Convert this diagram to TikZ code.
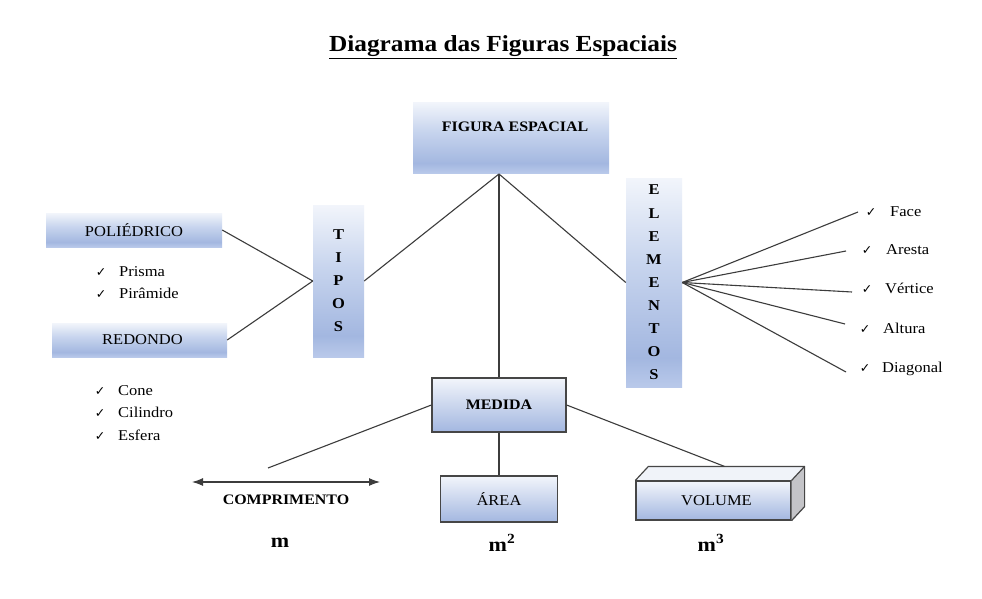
\documentclass[tikz,border=0pt]{standalone}
\usepackage{fontspec}
\setmainfont{Liberation Serif}[FakeStretch=1.1]
\newfontfamily\symfont{DejaVu Sans}
\usetikzlibrary{calc,arrows.meta}
\definecolor{bluetop}{RGB}{242,245,251}
\definecolor{bluemid}{RGB}{200,213,238}
\definecolor{bluebot}{RGB}{163,183,224}
\definecolor{blueedge}{RGB}{185,201,234}
\definecolor{linegray}{RGB}{60,60,60}
\definecolor{bordergray}{RGB}{70,70,70}
\definecolor{voltopc}{RGB}{240,243,249}
\definecolor{volside}{RGB}{196,196,200}
\pgfdeclareverticalshading{boxshade}{100bp}{color(0bp)=(blueedge); color(25bp)=(blueedge); color(32bp)=(bluebot); color(55bp)=(bluemid); color(75bp)=(bluetop); color(100bp)=(bluetop)}
\pgfdeclareverticalshading{medshade}{100bp}{color(0bp)=(bluebot); color(25bp)=(bluebot); color(75bp)=(bluetop); color(100bp)=(bluetop)}
\tikzset{
  softbox/.style={shading=boxshade, draw=none, inner sep=0pt, font=\fontsize{15}{18}\selectfont},
  framebox/.style={shading=medshade, draw=bordergray, line width=1.2pt, inner sep=0pt, font=\fontsize{15}{18}\selectfont},
  conn/.style={draw=linegray, line width=1.1pt},
  item/.style={anchor=base west, inner sep=0pt, font=\fontsize{15}{18}\selectfont},
  tick/.style={anchor=base, inner sep=0pt, font=\symfont\fontsize{12.5}{14}\selectfont},
  unit/.style={inner sep=0pt, font=\bfseries\fontsize{20}{24}\selectfont},
}
\begin{document}
\begin{tikzpicture}[x=1pt,y=-1pt]
\useasboundingbox[fill=white] (0,0) rectangle (982,599);
% title
\node[inner sep=0pt, font=\bfseries\fontsize{23}{28}\selectfont] (title) at (503,47) {\underline{Diagrama das Figuras Espaciais}};
% main boxes
\node[softbox, minimum width=196pt, minimum height=71pt, anchor=north, inner ysep=19pt, text height=10pt, text depth=23pt, font=\bfseries\fontsize{14.5}{17}\selectfont] (fig) at (511,102) {\hspace*{8pt}FIGURA ESPACIAL};
\node[softbox, minimum width=51pt, minimum height=152pt, align=center, font=\bfseries\fontsize{15}{23}\selectfont] (tipos) at (338.5,281) {T\\I\\P\\O\\S};
\node[softbox, minimum width=56pt, minimum height=209pt, align=center, font=\bfseries\fontsize{15}{23.1}\selectfont] (elem) at (654,282.5) {E\\L\\E\\M\\E\\N\\T\\O\\S};
\node[softbox, minimum width=176pt, minimum height=34pt] (poli) at (134,230) {POLIÉDRICO};
\node[softbox, minimum width=175pt, minimum height=34pt] (red) at (139.5,340) {\hspace*{6pt}REDONDO};
\node[framebox, minimum width=134pt, minimum height=54pt, font=\bfseries\fontsize{14.5}{17}\selectfont] (med) at (499,405) {MEDIDA};
\node[framebox, minimum width=117pt, minimum height=46pt] (area) at (499,499) {ÁREA};
% volume cuboid
\fill[voltopc] (636,481) -- ++(13,-14) -- (804,467) -- (791,481) -- cycle;
\node[framebox, minimum width=155pt, minimum height=39pt] (vol) at (713.5,500.5) {\hspace*{6pt}VOLUME};
\fill[volside] (vol.north east) -- ++(13,-14) -- ($(vol.south east)+(13,-14)$) -- (vol.south east) -- cycle;
\draw[bordergray, line width=1.2pt, line join=round] (vol.north west) -- ++(13,-14) -- ($(vol.north east)+(13,-14)$) -- (vol.north east)
  ($(vol.north east)+(13,-14)$) -- ($(vol.south east)+(13,-14)$) -- (vol.south east);
\coordinate (voltop) at ($(vol.north)+(11,-14)$);
% connectors from top
\coordinate (apex) at (499,174);
\draw[conn] (apex) -- (tipos.east);
\draw[conn] (apex) -- (elem.west);
\draw[conn] (apex) -- (med.north);
\draw[conn] (poli.east) -- (tipos.west);
\draw[conn] (red.east) -- (tipos.west);
% left lists
\node[tick] (t1) at (101,276) {✓}; \node[item] (p1) at (119,276) {Prisma};
\node[tick] (t2) at (101,298) {✓}; \node[item] (p2) at (119,298) {Pirâmide};
\node[tick] (t3) at (100,395) {✓}; \node[item] (r1) at (118,395) {Cone};
\node[tick] (t4) at (100,417) {✓}; \node[item] (r2) at (118,417) {Cilindro};
\node[tick] (t5) at (100,440) {✓}; \node[item] (r3) at (118,440) {Esfera};
% elements
\coordinate (e1) at (858,212);
\coordinate (e2) at (846,251);
\coordinate (e3) at (852,292);
\coordinate (e4) at (845,324);
\coordinate (e5) at (846,372);
\foreach \e in {e1,e2,e3,e4,e5} \draw[conn] (elem.east) -- (\e);
\node[tick] (u1) at (871,216) {✓}; \node[item] (v1) at (890,216) {Face};
\node[tick] (u2) at (867,254) {✓}; \node[item] (v2) at (886,254) {Aresta};
\node[tick] (u3) at (867,293) {✓}; \node[item] (v3) at (885,293) {Vértice};
\node[tick] (u4) at (865,333) {✓}; \node[item] (v4) at (883,333) {Altura};
\node[tick] (u5) at (865,372) {✓}; \node[item] (v5) at (882,372) {Diagonal};
% medida branches
\coordinate (compend) at (268,468);
\draw[conn] (med.west) -- (compend);
\draw[conn] (med.south) -- (area.north);
\draw[conn] (med.east) -- (voltop);
\coordinate (arrL) at (192,482);
\coordinate (arrR) at (380,482);
\draw[conn, {Latex[length=11pt,width=8pt]}-{Latex[length=11pt,width=8pt]}] (arrL) -- (arrR);
\node[inner sep=0pt, font=\bfseries\fontsize{14.5}{17}\selectfont] (comp) at (286,500) {COMPRIMENTO};
\node[unit] (m1) at (280,543) {m};
\node[unit] (m2) at (502,543) {m\textsuperscript{2}};
\node[unit] (m3) at (711,543) {m\textsuperscript{3}};
\end{tikzpicture}
\end{document}
